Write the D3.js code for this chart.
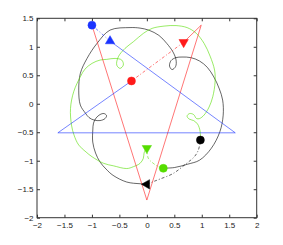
<!DOCTYPE html>
<html><head><meta charset="utf-8">
<script src="https://cdn.jsdelivr.net/npm/d3@7"></script>
<style>
html,body{margin:0;padding:0;background:#fff;}
svg{display:block;font-family:"Liberation Sans",Arial,Helvetica,sans-serif;}
</style></head>
<body>
<svg id="c" width="283" height="245"></svg>
<script>
// ---- data ----
const xTicks = [-2, -1.5, -1, -0.5, 0, 0.5, 1, 1.5, 2];
const yTicks = [-2, -1.5, -1, -0.5, 0, 0.5, 1, 1.5];

// black curve (solid), starting near the green circle
const blackPath = [[0.30,-1.13],[0.50,-1.12],[0.745,-1.06],[0.96,-0.99],[1.175,-0.78],[1.33,-0.49],
 [1.39,-0.20],[1.38,0.065],[1.32,0.26],[1.22,0.47],[1.10,0.64],[0.96,0.75],[0.80,0.81],[0.64,0.82],
 [0.532,0.81],[0.441,0.758],[0.413,0.661],[0.459,0.60],[0.523,0.653],[0.532,0.767],[0.477,0.907],
 [0.362,1.06],[0.22,1.20],[0.04,1.29],[-0.124,1.328],[-0.306,1.337],[-0.67,1.293],[-0.907,1.06],
 [-1.089,0.796],[-1.211,0.533],[-1.24,0.24],[-1.211,-0.023],[-1.12,-0.163],[-1.053,-0.242],[-0.962,-0.286],
 [-0.852,-0.295],[-0.761,-0.26],[-0.734,-0.207],[-0.78,-0.172],[-0.852,-0.189],[-0.925,-0.251],
 [-0.971,-0.339],[-0.984,-0.461],[-0.985,-0.672],[-0.934,-0.865],[-0.852,-1.023],[-0.743,-1.146],
 [-0.616,-1.256],[-0.366,-1.374],[-0.124,-1.404],[0,-1.41]];
const blackDash = [[0,-1.414],[0.122,-1.365],[0.24,-1.321],[0.477,-1.225],[0.714,-1.053],[0.865,-0.93],[0.938,-0.812],[0.975,-0.637]];

// green curve (solid), starting at the black circle
const greenPath = [[0.975,-0.637],[0.969,-0.479],[0.923,-0.356],[0.851,-0.295],[0.769,-0.268],[0.732,-0.216],
 [0.778,-0.172],[0.851,-0.189],[0.905,-0.26],[0.96,-0.26],[1.042,-0.198],[1.133,-0.058],[1.2,0.123],
 [1.242,0.381],[1.233,0.591],[1.151,0.837],[1.042,1.06],[0.896,1.24],[0.732,1.337],[0.532,1.372],
 [0.313,1.363],[0.095,1.323],[-0.064,1.235],[-0.246,1.088],[-0.397,0.972],[-0.519,0.825],[-0.548,0.679],
 [-0.488,0.621],[-0.428,0.679],[-0.457,0.767],[-0.579,0.796],[-0.73,0.779],[-0.852,0.767],[-0.998,0.709],
 [-1.126,0.609],[-1.211,0.474],[-1.332,0.211],[-1.39,-0.081],[-1.372,-0.374],[-1.326,-0.549],[-1.24,-0.725],
 [-1.107,-0.847],[-0.998,-0.93],[-0.785,-1.046],[-0.61,-1.089],[-0.366,-1.137],[-0.246,-1.105],
 [-0.124,-1.046],[-0.064,-0.958],[-0.051,-0.865],[-0.015,-0.78]];
const greenDash = [[0,-0.78],[0.027,-0.958],[0.118,-1.046],[0.209,-1.105],[0.30,-1.133]];

// red polyline and blue polyline
const redPath = [[-1.0,1.38],[0.0,-1.69],[0.99,1.38],[0.67,1.08]];
const redDash = [[0.67,1.08],[-0.28,0.40]];
const bluePath = [[-0.28,0.40],[-1.62,-0.51],[1.61,-0.51],[-0.67,1.10]];
const blueDash = [[-0.67,1.10],[-1.0,1.38]];

// markers
const markerX = [-1.0, -0.67, -0.28, 0.67, 0.30, 0.0, 0.975, 0.0];
const markerY = [1.38, 1.10, 0.40, 1.08, -1.133, -0.78, -0.637, -1.414];
const markerShape = ["circle","up","circle","down","circle","down","circle","left"];
const markerColor = ["blue","blue","red","red","green","green","black","black"];

// ---- drawing ----
const colors = {blue:"#1a33ff", red:"#ff1a1a", green:"#55dd00", black:"#000000"};
const svg = d3.select("#c");
const L=37, R=256.7, T=18.3, B=217.7;
const x = d3.scaleLinear().domain([-2,2]).range([L,R]);
const y = d3.scaleLinear().domain([-2,1.5]).range([B,T]);
const fmt = d => (d<0 ? "\u2212" : "") + String(Math.abs(d));

const axB = svg.append("g").attr("transform",`translate(0,${B})`)
  .call(d3.axisBottom(x).tickValues(xTicks).tickSize(-3).tickPadding(4.5).tickFormat(fmt));
const axT = svg.append("g").attr("transform",`translate(0,${T})`)
  .call(d3.axisTop(x).tickValues(xTicks).tickSize(-3).tickFormat(""));
const axL = svg.append("g").attr("transform",`translate(${L},0)`)
  .call(d3.axisLeft(y).tickValues(yTicks).tickSize(-3).tickPadding(3.5).tickFormat(fmt));
const axR = svg.append("g").attr("transform",`translate(${R},0)`)
  .call(d3.axisRight(y).tickValues(yTicks).tickSize(-3).tickFormat(""));
[axB,axT,axL,axR].forEach(a=>{
  a.select(".domain").remove();
  a.selectAll(".tick line").attr("stroke","#333");
  a.selectAll("text").attr("fill","#222").style("font-size","8px").style("font-family","'Liberation Sans',Arial,sans-serif");
});
svg.append("rect").attr("x",L).attr("y",T).attr("width",R-L).attr("height",B-T)
  .attr("fill","none").attr("stroke","#333").attr("stroke-width",1);

const plot = svg.append("g");
const smooth = d3.line().x(d=>x(d[0])).y(d=>y(d[1])).curve(d3.curveCatmullRom.alpha(0.5));
const straight = d3.line().x(d=>x(d[0])).y(d=>y(d[1]));
const dashPat = "3,2,1,2";

function draw(data, gen, col, dash){
  plot.append("path").attr("d",gen(data)).attr("fill","none")
    .attr("stroke",colors[col]).attr("stroke-width",0.6)
    .attr("stroke-dasharray",dash?dashPat:null);
}
draw(blackPath, smooth, "black", false);
draw(blackDash, smooth, "black", true);
draw(greenPath, smooth, "green", false);
draw(greenDash, smooth, "green", true);
draw(redPath, straight, "red", false);
draw(redDash, straight, "red", true);
draw(bluePath, straight, "blue", false);
draw(blueDash, straight, "blue", true);

const tri = d3.symbol().type(d3.symbolTriangle).size(38);
const rot = {up:0, down:180, left:-90};
markerX.forEach((mx,i)=>{
  const cx = x(mx), cy = y(markerY[i]), c = colors[markerColor[i]];
  if(markerShape[i]==="circle"){
    plot.append("circle").attr("cx",cx).attr("cy",cy).attr("r",4).attr("fill",c).attr("stroke",c).attr("stroke-width",0.5);
  } else {
    plot.append("path").attr("d",tri()).attr("fill",c).attr("stroke",c).attr("stroke-width",0.5)
      .attr("transform",`translate(${cx},${cy}) rotate(${rot[markerShape[i]]})`);
  }
});
</script>
</body></html>
